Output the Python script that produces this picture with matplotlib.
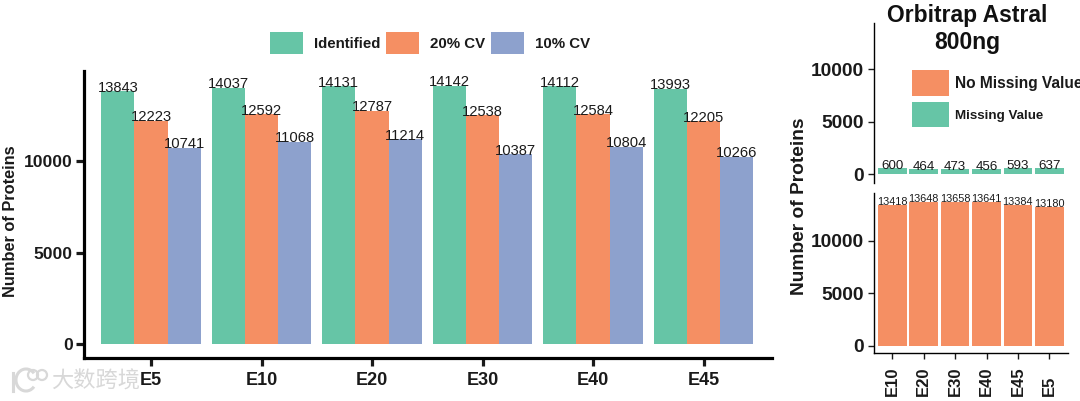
import matplotlib
matplotlib.use("Agg")
import matplotlib.pyplot as plt
from matplotlib.patches import Arc, Circle
from matplotlib.lines import Line2D
import numpy as np

plt.rcParams['font.family'] = ['Liberation Sans', 'DejaVu Sans']

W, H = 1080, 401
groups = ['E5', 'E10', 'E20', 'E30', 'E40', 'E45']
identified = [13843, 14037, 14131, 14142, 14112, 13993]
cv20 = [12223, 12592, 12787, 12538, 12584, 12205]
cv10 = [10741, 11068, 11214, 10387, 10804, 10266]

astral_groups = ['E10', 'E20', 'E30', 'E40', 'E45', 'E5']
no_missing = [13418, 13648, 13658, 13641, 13384, 13180]
missing = [600, 464, 473, 456, 593, 637]

GREEN, ORANGE, BLUE = '#66c5a6', '#f58f63', '#8da1cd'
TXT = '#1a1a1a'


def px_axes(fig, x0, x1, ytop, ybot):
    return fig.add_axes([x0 / W, 1 - ybot / H, (x1 - x0) / W, (ybot - ytop) / H])


def style(ax, lw, ticklen, size, bottom=True):
    for s in ('top', 'right'):
        ax.spines[s].set_visible(False)
    ax.spines['left'].set_linewidth(lw)
    ax.spines['bottom'].set_linewidth(lw)
    ax.spines['bottom'].set_visible(bottom)
    ax.tick_params(axis='both', width=lw, length=ticklen, labelsize=size, pad=2, color=TXT, labelcolor=TXT)
    for t in ax.get_yticklabels() + ax.get_xticklabels():
        t.set_fontweight('bold')
    ax.patch.set_alpha(0)


def labels(ax, xs, ys, size, dy):
    for x, y in zip(xs, ys):
        ax.annotate(str(y), (x, y), xytext=(0, dy), textcoords='offset points',
                    ha='center', va='baseline', fontsize=size, color=TXT)


fig = plt.figure(figsize=(W / 100, H / 100), dpi=100)
fig.patch.set_facecolor('white')

# ---- left chart
ax = px_axes(fig, 84, 771.5, 70.7, 357.5)
x = np.arange(len(groups))
bw = 0.3
series = [('Identified', identified, GREEN), ('20% CV', cv20, ORANGE), ('10% CV', cv10, BLUE)]
hs = []
for i, (name, vals, col) in enumerate(series):
    xs = x + (i - 1) * bw
    hs.append(ax.bar(xs, vals, bw, color=col, label=name))
    labels(ax, xs, vals, 10.6, -0.3)
ax.set_xlim((84 - 151) / 110.5, (771.5 - 151) / 110.5)
ax.set_ylim(-740, 14975)
ax.set_xticks(x, groups)
ax.set_yticks([0, 5000, 10000])
style(ax, 2.3, 6, 12.6)
ax.tick_params(axis='x', labelsize=13, pad=4.5)
ax.set_ylabel('Number of Proteins', fontsize=11.8, fontweight='bold', color=TXT)
ax.yaxis.set_label_coords((18.5 - 84) / (771.5 - 84), (357.5 - 221) / 286.8)
leg = ax.legend(handles=hs, loc='upper left', ncol=3, frameon=False,
                bbox_to_anchor=(270 / W, 1 - 32 / H), bbox_transform=fig.transFigure,
                borderpad=0, borderaxespad=0, handlelength=2.2, handleheight=1.9,
                handletextpad=0.72, columnspacing=0.4, prop={'weight': 'bold', 'size': 10.8})
for t in leg.get_texts():
    t.set_color(TXT)

# ---- right chart, upper panel
xr = np.arange(len(astral_groups))
bwr = 0.915
lo_x0, lo_x1 = 873.5, 1068
xl = ((lo_x0 - 892.3) / 31.4, (lo_x1 - 892.3) / 31.4)

up = px_axes(fig, lo_x0, lo_x1, 22.7, 182.7)
h_m = up.bar(xr, missing, bwr, color=GREEN, label='Missing Value')
labels(up, xr, missing, 9.6, -0.7)
up.set_xlim(*xl)
up.set_ylim(-800, 14411)
up.set_yticks([0, 5000, 10000])
up.set_xticks([])
style(up, 1.0, 4, 13.8, bottom=False)
up.tick_params(axis='y', pad=3)

# ---- right chart, lower panel
lo = px_axes(fig, lo_x0, lo_x1, 193, 353.3)
h_n = lo.bar(xr, no_missing, bwr, color=ORANGE, label='No Missing Value')
labels(lo, xr, no_missing, 7.8, 0)
lo.set_xlim(*xl)
lo.set_ylim(-694, 14544)
lo.set_yticks([0, 5000, 10000])
lo.set_xticks(xr, astral_groups)
style(lo, 1.0, 4, 13.8)
lo.tick_params(axis='y', pad=3)
for t in lo.get_xticklabels():
    t.set_rotation(90)
    t.set_fontsize(12)
    t.set_va('bottom')
lo.tick_params(axis='x', pad=26.5)

leg2 = up.legend(handles=[h_n, h_m], loc='upper left', frameon=False,
                 bbox_to_anchor=(912 / W, 1 - 70 / H), bbox_transform=fig.transFigure,
                 borderpad=0, borderaxespad=0, handlelength=2.36, handleheight=2.15,
                 handletextpad=0.38, labelspacing=0.4, prop={'weight': 'bold', 'size': 11.2})
for t in leg2.get_texts():
    t.set_color(TXT)
leg2.get_texts()[1].set_fontsize(9.6)

fig.text(967.5 / W, 1 - 29 / H, 'Orbitrap Astral\n800ng', fontsize=16.5, fontweight='bold',
         ha='center', va='center', color='#111111', linespacing=1.25)
fig.text(799.5 / W, 1 - 206 / H, 'Number of Proteins', rotation=90, fontsize=13.8, fontweight='bold',
         ha='center', va='center', color=TXT)

# ---- watermark
WM = '#d8d8d8'
fig.text(96 / W, 1 - 381 / H, '大数跨境', fontsize=16, color=WM, ha='center', va='center',
         family=['Noto Sans CJK SC', 'DejaVu Sans'])
bg = fig.add_axes([0, 0, 1, 1], zorder=-1)
bg.set_xlim(0, W)
bg.set_ylim(H, 0)
bg.axis('off')
bg.add_line(Line2D([13, 13], [373, 391], color=WM, lw=2.2))
bg.add_patch(Arc((26, 380), 20, 22, theta1=40, theta2=320, color=WM, lw=2.2))
bg.add_patch(Circle((33, 375), 5, fill=False, ec=WM, lw=1.6))
bg.add_patch(Circle((42, 375), 5, fill=False, ec=WM, lw=1.6))

fig.savefig('out.png', dpi=100)
